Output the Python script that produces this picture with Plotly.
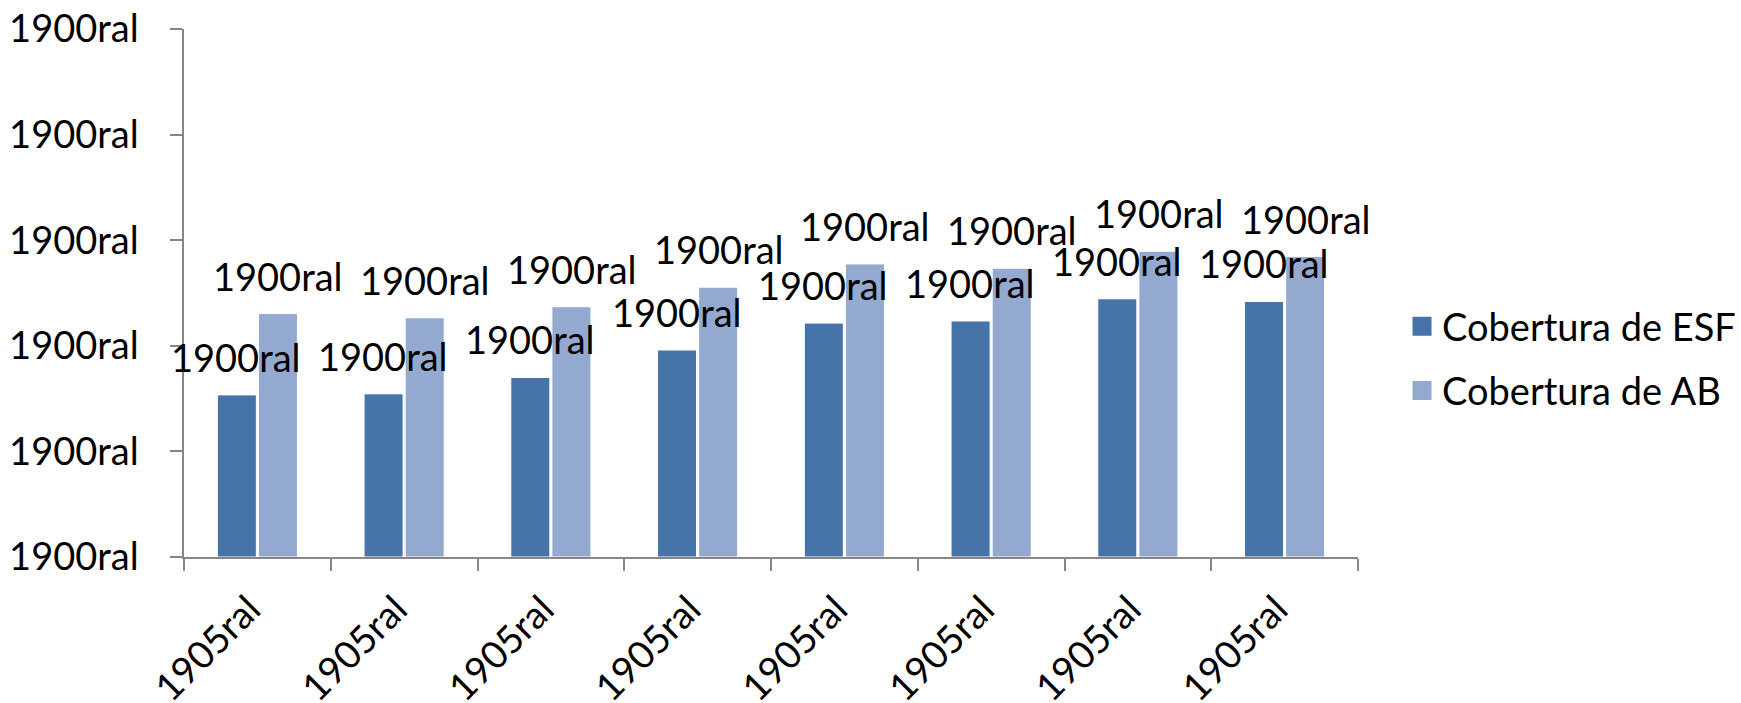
import plotly.graph_objects as go

# Category keys and the labels shown under each group
CATEGORY_KEYS = ["g1", "g2", "g3", "g4", "g5", "g6", "g7", "g8"]
CATEGORY_LABELS = ["1905ral"] * 8

# Coverage shares per group
ESF_VALUES = [0.307, 0.309, 0.340, 0.392, 0.443, 0.447, 0.489, 0.484]
AB_VALUES = [0.461, 0.453, 0.474, 0.511, 0.555, 0.547, 0.579, 0.569]

# Value-axis ticks and their (formatted) labels
Y_TICKS = [0.0, 0.2, 0.4, 0.6, 0.8, 1.0]
Y_TICK_LABELS = ["1900ral"] * 6
DATA_LABEL = "1900ral"

SERIES_NAMES = ["Cobertura de ESF", "Cobertura de AB"]
COLORS = ["#4673A8", "#94A9D0"]

FONT = "Lato"
FSIZE = 38
AXIS_COLOR = "#878787"

fig = go.Figure()
for name, vals, color in zip(SERIES_NAMES, [ESF_VALUES, AB_VALUES], COLORS):
    fig.add_trace(go.Bar(
        x=CATEGORY_KEYS, y=vals, name=name, showlegend=False,
        marker=dict(color=color, line=dict(color="#FFFFFF", width=1)),
    ))

# Legend entries with larger square swatches
for name, color, grp in zip(SERIES_NAMES, COLORS, ["a", "b"]):
    fig.add_trace(go.Scatter(
        x=[None], y=[None], mode="markers", name=name, legendgroup=grp,
        marker=dict(symbol="square", size=16, color=color, line=dict(color=color, width=3)),
        hoverinfo="skip",
    ))

# Value labels above every bar
shift = 21
for vals, dx in [(ESF_VALUES, -shift), (AB_VALUES, shift)]:
    for key, v in zip(CATEGORY_KEYS, vals):
        fig.add_annotation(
            x=key, y=v, xref="x", yref="y", text=DATA_LABEL, showarrow=False,
            xanchor="center", yanchor="bottom", xshift=dx, yshift=13,
            font=dict(family=FONT, size=FSIZE, color="#000000"),
        )

fig.update_layout(
    width=1741, height=703,
    margin=dict(l=184, r=383, t=29, b=146, autoexpand=False),
    paper_bgcolor="#FFFFFF", plot_bgcolor="#FFFFFF",
    barmode="group", bargap=0.44, bargroupgap=0.05,
    font=dict(family=FONT, size=FSIZE, color="#000000"),
    legend=dict(
        x=1.0375, xanchor="left", y=0.376, yanchor="middle",
        font=dict(family=FONT, size=FSIZE), tracegroupgap=12,
        bgcolor="rgba(0,0,0,0)", itemsizing="trace",
    ),
    showlegend=True,
)
fig.update_xaxes(
    type="category", tickmode="array", tickvals=CATEGORY_KEYS, ticktext=CATEGORY_LABELS,
    range=[-0.5, len(CATEGORY_KEYS) - 0.5], automargin=False,
    tickson="boundaries", ticks="outside", ticklen=12, tickcolor=AXIS_COLOR, tickwidth=1.5,
    showline=True, linecolor=AXIS_COLOR, linewidth=1.5, showgrid=False, zeroline=False,
    tickangle=-45, tickfont=dict(family=FONT, size=FSIZE, color="#000000"),
    ticklabelstandoff=13, ticklabelshift=-8,
)
fig.update_yaxes(
    range=[0, 1], tickmode="array", tickvals=Y_TICKS, ticktext=Y_TICK_LABELS,
    automargin=False,
    ticks="outside", ticklen=12, tickcolor=AXIS_COLOR, tickwidth=1.5,
    showline=True, linecolor=AXIS_COLOR, linewidth=1.5, showgrid=False, zeroline=False,
    tickfont=dict(family=FONT, size=FSIZE, color="#000000"),
    ticklabelstandoff=24,
)

fig.write_html("out.html")
